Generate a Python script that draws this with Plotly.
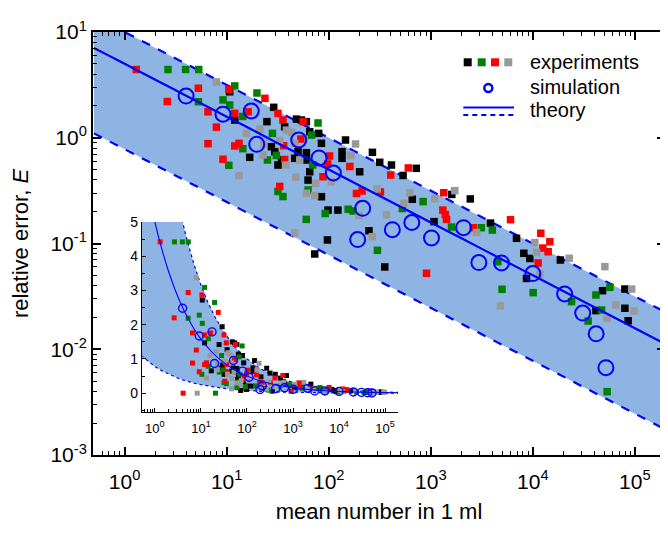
import plotly.graph_objects as go

# ---------------- data ----------------
sim_n = [4.0, 9.2, 17.4, 19.7, 50.8, 80.3, 111, 215, 192, 420, 652, 1016, 2094,
         2958, 4932, 10000, 20500, 30800, 41700, 52000]
sim_E = [2.48, 1.67, 1.79, 0.867, 0.953, 0.644, 0.464, 0.215, 0.109, 0.135, 0.158,
         0.113, 0.141, 0.066, 0.0655, 0.052, 0.0333, 0.022, 0.0140, 0.0067]

black_n = [10.7, 28.9, 12.0, 24.8, 27.4, 29.6, 16.8, 31.8, 62.7, 84.8, 98.4, 97.1,
           72.9, 37.0, 48.2, 54.0, 60.4, 65.1, 79.8, 50.0, 60.4, 65.1, 84.8, 146,
           34.4, 46.4, 60.4, 135, 135, 201, 268, 316, 412, 535, 721, 659, 123, 248,
           1607, 2438, 1077, 3850, 6920, 8160, 9350, 18600, 354, 8670, 48200, 79800,
           79800, 41500, 85900]
black_E = [2.72, 1.94, 1.47, 1.42, 0.823, 0.738, 0.653, 0.552, 0.398, 0.277, 0.207, 0.108,
           0.0796, 1.27, 1.50, 1.47, 1.42, 1.14, 1.10, 0.738, 0.616, 0.477, 0.886, 0.952,
           0.616, 0.639, 0.722, 0.738, 0.639, 0.477, 0.728, 0.586, 0.552, 0.440, 0.514, 0.262, 0.207, 0.132,
           0.291, 0.264, 0.161, 0.156, 0.112, 0.0808, 0.0722, 0.0698, 0.060, 0.0467, 0.0358, 0.0371,
           0.0244, 0.0232, 0.0186]

red_n = [1.30, 10.5, 5.28, 2.62, 23.7, 31.8, 35.6, 6.56, 12.0, 16.2, 7.93, 6.56, 12.0,
         13.2, 9.20, 37.0, 33.1, 53.2, 56.0, 102, 97.7, 36.2, 161, 405, 602, 87.9, 187,
         212, 321, 1341, 1312, 1387, 1426, 2600, 6040, 11970, 12530, 14130, 14680, 11270,
         908, 4.1]
red_E = [4.42, 2.87, 2.94, 2.20, 2.36, 1.70, 1.47, 1.76, 1.70, 1.76, 1.26, 0.879, 0.836,
         0.886, 0.626, 0.623, 0.347, 0.973, 1.42, 0.672, 0.565, 0.841, 0.535, 0.444, 0.518, 0.428, 0.297,
         0.314, 0.307, 0.302, 0.207, 0.188, 0.169, 0.141, 0.168, 0.125, 0.0906, 0.0836, 0.104, 0.0654,
         0.0523, 0.0]

green_n = [2.66, 3.96, 5.32, 12.0, 19.8, 5.28, 9.20, 10.7, 14.4, 28.1, 14.4, 10.5, 25.1,
           30.7, 31.8, 35.6, 62.7, 60.2, 92.4, 78.5, 69.7, 67.7, 155, 173, 526, 300, 841,
           1596, 3126, 4010, 4540, 4990, 10070, 23950, 41500, 56880, 47170, 34840, 53500, 20.7]
green_E = [4.42, 4.42, 4.42, 3.09, 2.65, 2.19, 2.28, 2.04, 1.59, 1.10, 0.788, 0.549, 0.616,
           0.680, 0.310, 0.278, 0.321, 0.169, 0.192, 1.38, 0.552, 1.06, 0.211, 0.203, 0.214, 0.0862, 0.249,
           0.143, 0.141, 0.134, 0.0673, 0.0369, 0.0343, 0.0282, 0.0326, 0.0385, 0.0235, 0.0185, 0.00397, 0.0]

gray_n = [7.93, 21.1, 38.5, 15.6, 23.1, 33.1, 22.7, 13.2, 47.5, 60.4, 72.9, 46.4, 43.1,
          37.9, 52.0, 46.4, 164, 183, 106, 74.6, 198, 368, 299, 623, 543, 267, 1094, 1719,
          2805, 10470, 10870, 22700, 50800, 11710, 4800, 92900, 65100, 97800, 53500, 8.3]
gray_E = [3.37, 1.21, 1.18, 1.10, 0.873, 0.938, 0.687, 0.438, 0.423, 0.298, 0.284, 0.126, 1.12,
          0.552, 0.616, 0.886, 0.680, 0.873, 0.384, 0.371, 0.184, 0.187, 0.328, 0.302, 0.240, 0.116, 0.265, 0.316,
          0.127, 0.102, 0.0822, 0.0725, 0.0604, 0.0511, 0.0257, 0.0371, 0.0262, 0.0230, 0.0196, 0.0]

# theory curve and its band
theory_n = [0.5, 0.7, 1, 1.4, 2, 3, 4, 5, 7, 10, 14, 20, 30, 50, 70, 100, 200, 500,
            1000, 2000, 5000, 1e4, 2e4, 5e4, 1e5, 2e5]
theory_E = [7.07, 5.98, 5.0, 4.23, 3.54, 2.89, 2.5, 2.24, 1.89, 1.58, 1.34, 1.12, 0.913,
            0.707, 0.598, 0.5, 0.354, 0.224, 0.158, 0.112, 0.0707, 0.05, 0.0354, 0.0224,
            0.0158, 0.0112]
upper_E = [14.1, 12.0, 10.0, 8.45, 7.07, 5.77, 5.0, 4.47, 3.78, 3.16, 2.67, 2.24, 1.83,
           1.41, 1.20, 1.0, 0.707, 0.447, 0.316, 0.224, 0.141, 0.1, 0.0707, 0.0447,
           0.0316, 0.0224]
lower_E = [1.10, 0.932, 0.78, 0.659, 0.552, 0.450, 0.39, 0.349, 0.295, 0.247, 0.208, 0.174,
           0.142, 0.110, 0.0932, 0.078, 0.0552, 0.0349, 0.0247, 0.0174, 0.0110, 0.0078,
           0.00552, 0.00349, 0.00247, 0.00174]

x_tick_vals = [1, 10, 100, 1000, 10000, 100000]
x_tick_text = ["10<sup>0</sup>", "10<sup>1</sup>", "10<sup>2</sup>", "10<sup>3</sup>",
               "10<sup>4</sup>", "10<sup>5</sup>"]
y_tick_vals = [0.001, 0.01, 0.1, 1, 10]
y_tick_text = ["10<sup>-3</sup>", "10<sup>-2</sup>", "10<sup>-1</sup>", "10<sup>0</sup>",
               "10<sup>1</sup>"]
inset_y_vals = [0, 1, 2, 3, 4, 5]

legend_labels = ["experiments", "simulation", "theory"]

# ---------------- styles ----------------
BLUE = "#0000ff"
FILL = "#8db4e2"
COLORS = {"black": "#000000", "green": "#008000", "red": "#ff0000", "gray": "#999999"}
FONT = "Liberation Sans, Arial, sans-serif"

series = [("black", black_n, black_E), ("green", green_n, green_E),
          ("red", red_n, red_E), ("gray", gray_n, gray_E)]

fig = go.Figure()


def add_layer(xa, ya, sq, circ, circ_w, lw, dash, dash_w):
    fig.add_trace(go.Scatter(x=theory_n, y=lower_E, mode="lines", xaxis=xa, yaxis=ya,
                             line=dict(color=BLUE, width=dash_w, dash=dash),
                             showlegend=False, hoverinfo="skip"))
    fig.add_trace(go.Scatter(x=theory_n, y=upper_E, mode="lines", xaxis=xa, yaxis=ya,
                             fill="tonexty", fillcolor=FILL,
                             line=dict(color=BLUE, width=dash_w, dash=dash),
                             showlegend=False, hoverinfo="skip"))
    for name, xs, ys in series:
        fig.add_trace(go.Scatter(x=xs, y=ys, mode="markers", xaxis=xa, yaxis=ya,
                                 marker=dict(symbol="square", size=sq, color=COLORS[name],
                                             line=dict(width=0)),
                                 showlegend=False))
    fig.add_trace(go.Scatter(x=theory_n, y=theory_E, mode="lines", xaxis=xa, yaxis=ya,
                             line=dict(color=BLUE, width=lw, shape="spline"),
                             showlegend=False, hoverinfo="skip"))
    fig.add_trace(go.Scatter(x=sim_n, y=sim_E, mode="markers", xaxis=xa, yaxis=ya,
                             marker=dict(symbol="circle-open", size=circ, color=BLUE,
                                         line=dict(width=circ_w, color=BLUE)),
                             showlegend=False))


add_layer("x", "y", 7.5, 15, 2, 2.2, "dash", 2.2)
add_layer("x2", "y2", 5, 8, 1.4, 1.1, "dot", 1.2)

# ---------------- legend (drawn in a pixel-space overlay axis) ----------------
# screen-pixel box of the main plot area (page has an 8 px body margin)
PAGE_OFF = 8
L, R, T, B = 93, 665, 32, 455
W, H = 660, 527
sq_x = [467.7, 481.7, 495, 508.3]
for cx, name in zip(sq_x, ["black", "green", "red", "gray"]):
    fig.add_trace(go.Scatter(x=[cx], y=[62.3], mode="markers", xaxis="x3", yaxis="y3",
                             marker=dict(symbol="square", size=8, color=COLORS[name],
                                         line=dict(width=0)),
                             showlegend=False, hoverinfo="skip"))
fig.add_trace(go.Scatter(x=[488.3], y=[88], mode="markers", xaxis="x3", yaxis="y3",
                         marker=dict(symbol="circle-open", size=8, color=BLUE,
                                     line=dict(width=2.5, color=BLUE)),
                         showlegend=False, hoverinfo="skip"))
fig.add_trace(go.Scatter(x=[463.3, 514], y=[107.5, 107.5], mode="lines", xaxis="x3", yaxis="y3",
                         line=dict(color=BLUE, width=2), showlegend=False, hoverinfo="skip"))
fig.add_trace(go.Scatter(x=[463.3, 514], y=[115, 115], mode="lines", xaxis="x3", yaxis="y3",
                         line=dict(color=BLUE, width=2, dash="5px,4px"), showlegend=False,
                         hoverinfo="skip"))
for txt, yy in zip(legend_labels, [62, 87, 110]):
    fig.add_annotation(x=528, y=yy, xref="x3", yref="y3", text=txt, showarrow=False,
                       xanchor="left", yanchor="middle",
                       font=dict(size=20, color="black", family=FONT))

# ---------------- axes ----------------
def log_minor(lo_exp, hi_exp, lo, hi):
    vals = []
    for e in range(lo_exp, hi_exp + 1):
        for m in range(2, 10):
            v = m * 10.0 ** e
            if lo <= v <= hi:
                vals.append(v)
    return vals


x_minor = log_minor(-1, 5, 0.5, 2.1e5)
y_minor = log_minor(-3, 0, 0.001, 10)

axis_common = dict(showgrid=False, zeroline=False, showline=True, linecolor="black",
                   ticks="inside", tickcolor="black", automargin=False)

fig.update_layout(
    width=W, height=H,
    margin=dict(l=L - PAGE_OFF, r=W - (R - PAGE_OFF), t=T - PAGE_OFF, b=H - (B - PAGE_OFF)),
    paper_bgcolor="white", plot_bgcolor="rgba(0,0,0,0)",
    font=dict(family=FONT, color="black"),
    xaxis=dict(type="log", range=[-0.31, 5.295], tickmode="array", tickvals=x_tick_vals,
               ticktext=x_tick_text, ticklen=8, tickwidth=1.6, linewidth=2,
               mirror="allticks", tickfont=dict(size=21), ticklabelstandoff=7,
               minor=dict(tickmode="array", tickvals=x_minor, ticks="inside", ticklen=4,
                          tickwidth=1.3, tickcolor="black"),
               title=dict(text="mean number in 1 ml", font=dict(size=22), standoff=11),
               **axis_common),
    yaxis=dict(type="log", range=[-3, 1], tickmode="array", tickvals=y_tick_vals,
               ticktext=y_tick_text, ticklen=8, tickwidth=1.6, linewidth=2,
               mirror="allticks", tickfont=dict(size=21),
               minor=dict(tickmode="array", tickvals=y_minor, ticks="inside", ticklen=4,
                          tickwidth=1.3, tickcolor="black"),
               title=dict(text="relative error, <i>E</i>", font=dict(size=22), standoff=34),
               **axis_common),
    xaxis2=dict(type="log", range=[-0.28, 5.28], domain=[(142 - L) / (R - L), (398 - L) / (R - L)],
                anchor="y2", tickmode="array", tickvals=x_tick_vals, ticktext=x_tick_text,
                ticklen=4, tickwidth=1, linewidth=1.3, tickfont=dict(size=13),
                ticklabelstandoff=4,
                minor=dict(tickmode="array", tickvals=x_minor, ticks="inside", ticklen=2.5,
                           tickwidth=1, tickcolor="black"),
                **axis_common),
    yaxis2=dict(range=[-0.55, 5.0], domain=[(B - 412) / (B - T), (B - 222) / (B - T)],
                anchor="x2", tickmode="array", tickvals=inset_y_vals, ticklen=4, tickwidth=1,
                linewidth=1.3, tickfont=dict(size=14),
                minor=dict(dtick=0.5, ticks="inside", ticklen=2.5, tickwidth=1,
                           tickcolor="black"),
                **axis_common),
    xaxis3=dict(range=[L, R], domain=[0, 1], anchor="y3", visible=False, fixedrange=True),
    yaxis3=dict(range=[B, T], domain=[0, 1], anchor="x3", visible=False, fixedrange=True),
)

fig.write_html("out.html")
